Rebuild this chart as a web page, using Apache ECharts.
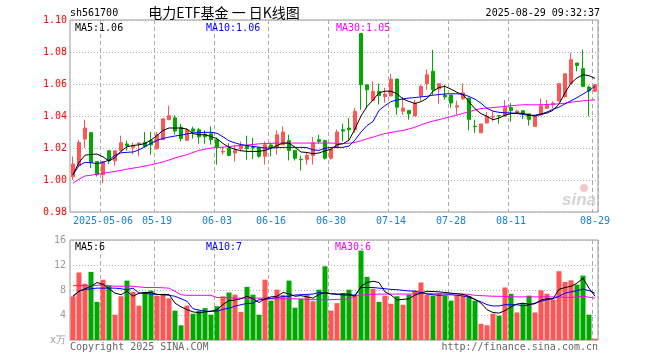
<!DOCTYPE html>
<html>
<head>
<meta charset="utf-8">
<script src="https://cdn.jsdelivr.net/npm/echarts/dist/echarts.min.js"></script>
<style>html,body{margin:0;padding:0;background:#fff}#c{width:660px;height:360px}</style>
</head>
<body>
<div id="c"></div>
<script>
const dates = ['2025-04-24','2025-04-25','2025-04-28','2025-04-29','2025-04-30',
'2025-05-06','2025-05-07','2025-05-08','2025-05-09','2025-05-12','2025-05-13','2025-05-14','2025-05-15','2025-05-16',
'2025-05-19','2025-05-20','2025-05-21','2025-05-22','2025-05-23','2025-05-26','2025-05-27','2025-05-28','2025-05-29','2025-05-30',
'2025-06-03','2025-06-04','2025-06-05','2025-06-06','2025-06-09','2025-06-10','2025-06-11','2025-06-12','2025-06-13',
'2025-06-16','2025-06-17','2025-06-18','2025-06-19','2025-06-20','2025-06-23','2025-06-24','2025-06-25','2025-06-26','2025-06-27',
'2025-06-30','2025-07-01','2025-07-02','2025-07-03','2025-07-04','2025-07-07','2025-07-08','2025-07-09','2025-07-10','2025-07-11',
'2025-07-14','2025-07-15','2025-07-16','2025-07-17','2025-07-18','2025-07-21','2025-07-22','2025-07-23','2025-07-24','2025-07-25',
'2025-07-28','2025-07-29','2025-07-30','2025-07-31','2025-08-01','2025-08-04','2025-08-05','2025-08-06','2025-08-07','2025-08-08',
'2025-08-11','2025-08-12','2025-08-13','2025-08-14','2025-08-15','2025-08-18','2025-08-19','2025-08-20','2025-08-21','2025-08-22',
'2025-08-25','2025-08-26','2025-08-27','2025-08-28','2025-08-29'];

const opens = [1.002,1.009,1.0256,1.0296,1.0116,1.0033,1.0183,1.012,1.0183,1.0225,
1.0204,1.0225,1.0235,1.0246,1.0195,1.0252,1.0377,1.0388,1.033,1.0248,
1.0319,1.0314,1.0287,1.0289,1.0252,1.0175,1.020,1.0169,1.0196,1.0216,
1.0204,1.0204,1.0148,1.0219,1.0204,1.022,1.0246,1.0185,1.0129,1.0129,
1.0152,1.0252,1.0246,1.0136,1.0202,1.0314,1.0325,1.0314,1.0915,1.0595,
1.0496,1.0554,1.0521,1.0525,1.0631,1.043,1.0435,1.040,1.0527,1.0602,
1.0679,1.0569,1.0531,1.0531,1.0456,1.0508,1.0512,1.0336,1.0295,1.0356,
1.0394,1.0402,1.0398,1.0453,1.0422,1.0433,1.0413,1.0335,1.0408,1.0448,
1.0471,1.0493,1.0521,1.0602,1.0731,1.0696,1.0581,1.0554];
const closes = [1.010,1.0235,1.0325,1.011,1.0033,1.0116,1.012,1.0183,1.0233,1.0216,
1.0214,1.0231,1.021,1.022,1.0283,1.0383,1.0402,1.0306,1.026,1.0314,
1.0304,1.027,1.027,1.0252,1.0206,1.018,1.0154,1.0185,1.0219,1.0196,
1.020,1.0148,1.022,1.0204,1.0283,1.030,1.0185,1.0136,1.0127,1.0154,
1.0233,1.0241,1.0136,1.0194,1.030,1.0306,1.0314,1.0429,1.0595,1.0564,
1.0554,1.0527,1.0537,1.063,1.0455,1.0449,1.0414,1.0481,1.0585,1.0658,
1.0564,1.0602,1.0519,1.0481,1.0464,1.0545,1.0379,1.0333,1.035,1.0398,
1.0398,1.040,1.0453,1.0434,1.0431,1.0419,1.0379,1.040,1.0464,1.047,
1.048,1.0602,1.0664,1.0752,1.0716,1.0585,1.0556,1.0596];
const lows = [1.000,1.008,1.020,1.0075,1.0022,0.998,1.010,1.009,1.0183,1.0183,
1.016,1.0148,1.020,1.0158,1.019,1.0252,1.0377,1.0285,1.024,1.0248,
1.0258,1.0227,1.0227,1.0221,1.0096,1.0158,1.0148,1.0116,1.0179,1.0127,
1.0131,1.0139,1.0096,1.0148,1.0158,1.022,1.0122,1.0122,1.006,1.0096,
1.0096,1.0227,1.0127,1.0127,1.020,1.0241,1.0246,1.0294,1.0439,1.0449,
1.0496,1.0473,1.0483,1.0525,1.0408,1.0408,1.0377,1.040,1.0496,1.0564,
1.0533,1.0477,1.0502,1.0452,1.0408,1.050,1.0311,1.0294,1.0295,1.0356,
1.0366,1.0352,1.0398,1.0364,1.0422,1.038,1.034,1.0335,1.0398,1.0448,
1.045,1.0493,1.0514,1.0602,1.0679,1.0585,1.0398,1.0554];
const highs = [1.0147,1.0252,1.0377,1.0296,1.0116,1.0116,1.0183,1.0183,1.0277,1.0246,
1.0233,1.0235,1.030,1.0302,1.030,1.0383,1.0464,1.0404,1.035,1.0325,
1.0333,1.0325,1.031,1.0335,1.0265,1.0206,1.023,1.022,1.024,1.0277,
1.0263,1.0204,1.0241,1.0235,1.031,1.0335,1.0283,1.0185,1.0152,1.0173,
1.0269,1.0283,1.0252,1.0194,1.0315,1.0352,1.0387,1.045,1.0915,1.0595,
1.0616,1.0602,1.0577,1.0664,1.0631,1.0518,1.0435,1.050,1.0596,1.069,
1.0814,1.0602,1.0596,1.0531,1.0496,1.0605,1.0512,1.0377,1.035,1.0424,
1.0429,1.0402,1.050,1.048,1.044,1.0433,1.0413,1.040,1.0508,1.050,
1.0491,1.0602,1.0664,1.0794,1.0731,1.0814,1.0591,1.0596];

const ma5 = [1.0033,1.011,1.0155,1.016,1.0162,1.0145,1.0118,1.014,1.018,1.0208,
1.0216,1.022,1.0228,1.025,1.0278,1.031,1.0325,1.0325,1.0325,1.0318,
1.029,1.0283,1.0283,1.0272,1.0258,1.0228,1.0205,1.0192,1.0183,1.0179,
1.0179,1.0179,1.0185,1.0198,1.0215,1.0231,1.023,1.0205,1.0175,1.0172,
1.0164,1.0169,1.0182,1.0192,1.022,1.0227,1.0248,1.032,1.040,1.046,
1.050,1.0545,1.0555,1.0555,1.0539,1.0506,1.0491,1.0478,1.049,1.051,
1.0555,1.0578,1.0585,1.0568,1.0548,1.0533,1.049,1.0445,1.0415,1.0398,
1.0377,1.0387,1.0406,1.0415,1.0419,1.0416,1.0408,1.040,1.041,1.0419,
1.0435,1.0475,1.0545,1.0605,1.0638,1.0658,1.0652,1.0635];
const ma10 = [1.0033,1.009,1.011,1.0108,1.0102,1.011,1.0125,1.0155,1.017,1.0173,
1.0175,1.0188,1.021,1.0228,1.0248,1.026,1.0268,1.0275,1.028,1.0288,
1.0294,1.0297,1.0298,1.0298,1.0292,1.027,1.0245,1.0232,1.0221,1.0215,
1.021,1.0205,1.020,1.020,1.0202,1.0204,1.0204,1.0204,1.0204,1.0202,
1.0188,1.0185,1.0198,1.0204,1.0204,1.0204,1.0212,1.025,1.030,1.034,
1.0366,1.0435,1.0465,1.049,1.050,1.0507,1.0512,1.0515,1.052,1.0523,
1.053,1.0534,1.0538,1.0539,1.0539,1.0535,1.0522,1.0505,1.048,1.0448,
1.043,1.0423,1.042,1.0419,1.0415,1.041,1.0403,1.0405,1.0412,1.0425,
1.0443,1.0455,1.0476,1.0495,1.0515,1.0537,1.056,1.0585];
const ma30 = [0.998,1.0005,1.0025,1.003,1.0036,1.0042,1.0048,1.0054,1.006,1.0068,
1.0074,1.008,1.0088,1.0095,1.0104,1.0113,1.0125,1.0138,1.0148,1.0158,
1.0172,1.0185,1.0192,1.020,1.0203,1.0206,1.0209,1.0213,1.0216,1.0219,
1.0222,1.0226,1.0228,1.0229,1.023,1.0231,1.0231,1.0231,1.0231,1.0231,
1.0231,1.0231,1.0231,1.0231,1.0229,1.0227,1.023,1.0235,1.0245,1.0258,
1.0268,1.028,1.029,1.0297,1.0304,1.031,1.0319,1.033,1.0345,1.0358,
1.0368,1.0377,1.0387,1.0396,1.0406,1.0416,1.0426,1.0438,1.0446,1.045,
1.0453,1.0456,1.046,1.0464,1.0468,1.047,1.047,1.047,1.047,1.0472,
1.0474,1.0476,1.048,1.0486,1.0491,1.0495,1.0498,1.0502];

const volumes = [6.98,10.8,9.0,10.9,6.1,9.65,8.7,4.05,7.0,9.5,
7.7,5.5,7.7,7.9,7.1,7.4,6.66,4.7,2.35,5.5,
4.2,4.7,5.1,4.05,5.4,7.0,7.6,7.25,4.5,8.5,
7.25,4.05,9.65,6.3,8.05,7.2,9.5,5.17,6.6,7.25,
6.2,8.05,11.8,4.7,5.9,7.5,8.05,7.1,14.3,10.1,
8.2,6.1,7.1,5.8,7.0,5.65,7.25,7.9,9.2,7.25,
7.1,7.5,7.1,6.3,7.1,7.1,7.0,6.3,2.6,2.35,
4.2,3.9,8.4,7.4,4.4,5.9,7.1,4.4,7.95,7.4,
6.45,11.0,9.3,9.55,8.85,10.3,4.05,0.2];
const volMa5 = [7.0,7.8,8.2,8.6,9.2,8.9,8.2,7.5,7.25,7.8,
7.0,7.5,7.6,7.6,7.3,7.25,7.3,5.9,5.3,4.85,
4.5,4.35,4.5,4.6,4.85,5.7,6.3,6.4,6.6,7.0,
6.6,6.0,6.6,6.9,7.0,7.6,7.4,7.0,7.1,6.9,
6.7,7.3,7.6,7.4,7.35,7.35,7.35,7.0,8.6,9.2,
9.4,9.2,7.7,7.2,6.4,6.5,6.6,7.2,7.5,7.8,
7.75,7.7,7.6,7.5,7.4,7.3,7.0,6.5,5.9,4.85,
4.4,4.3,4.7,5.3,5.75,5.9,5.7,5.8,6.4,6.6,
6.6,8.1,8.4,8.6,9.1,9.9,8.3,7.0];
const volMa10 = [7.0,7.8,8.1,8.2,8.3,8.3,8.3,8.3,8.2,8.05,
8.3,7.5,7.45,7.35,7.3,7.25,7.15,7.0,6.6,6.2,
5.0,4.8,4.6,4.6,4.6,4.9,5.1,5.4,5.65,5.85,
5.9,6.45,6.5,6.65,6.8,6.95,7.0,7.2,7.25,7.3,
7.35,7.6,7.5,7.4,7.3,7.2,7.15,7.2,8.4,8.4,
8.4,8.3,8.2,8.1,8.05,7.95,7.85,7.8,7.6,7.35,
7.25,7.15,7.2,7.25,7.15,7.05,6.85,6.5,6.1,5.65,
5.45,5.45,5.65,5.65,5.65,5.45,5.6,5.9,6.2,6.45,
6.6,7.0,7.5,7.7,7.9,8.15,7.9,7.5];
const volMa30 = [8.7,8.7,8.7,8.7,8.75,8.85,8.7,8.6,8.6,8.6,
8.6,8.5,8.4,8.4,8.4,8.35,8.3,7.8,7.25,7.15,
7.15,7.15,7.15,7.15,6.8,6.8,6.75,6.7,6.7,6.7,
6.7,6.7,6.7,6.6,6.55,6.6,6.6,6.6,6.55,6.5,
6.45,6.45,6.45,6.45,6.5,6.5,6.55,7.1,7.2,7.25,
7.3,7.35,7.35,7.35,7.35,7.35,7.35,7.4,7.5,7.45,
7.4,7.4,7.4,7.4,7.4,7.35,7.3,7.15,7.1,7.05,
7.0,7.0,6.95,6.95,6.9,6.9,6.9,6.9,6.9,6.9,
6.9,6.9,6.85,6.8,6.9,7.0,6.85,6.7];

const tickDates = ['2025-05-06','2025-05-19','2025-06-03','2025-06-16','2025-06-30','2025-07-14','2025-07-28','2025-08-11','2025-08-29'];
const tickLabels = ['2025-05-06','05-19','06-03','06-16','06-30','07-14','07-28','08-11','08-29'];
const priceTicks = [0.98, 1.10, 0.02];
const volTicks = [0, 16, 4];

const RED = '#ff5555', GREEN = '#00a800';
const MONO = '"DejaVu Sans Mono", monospace';

const tickIdx = tickDates.map(d => dates.indexOf(d));
const candleData = dates.map((d, i) => [opens[i], closes[i], lows[i], highs[i]]);
const volData = volumes.map((v, i) => ({value: v, itemStyle: {color: closes[i] >= opens[i] ? RED : GREEN}}));

const vSplit = {show: true, interval: (idx) => tickIdx.indexOf(idx) >= 0, lineStyle: {color: '#aaa', type: [4, 3], width: 1}};
const hSplit = {show: true, lineStyle: {color: '#b0b0b0', type: [1, 2], width: 1}};

const chart = echarts.init(document.getElementById('c'), null, {renderer: 'canvas'});
const txt = (x, y, text, fill, opts) => Object.assign({type: 'text', x: x, y: y, z: 100,
  style: {text: text, fill: fill, font: '10px ' + MONO, textAlign: 'left', textVerticalAlign: 'middle'}}, opts || {});

chart.setOption({
  animation: false,
  backgroundColor: '#fff',
  grid: [
    {left: 70, top: 20, width: 528, height: 192, show: true, borderColor: '#999', borderWidth: 1, backgroundColor: 'transparent'},
    {left: 70, top: 240, width: 528, height: 100, show: true, borderColor: '#999', borderWidth: 1, backgroundColor: 'transparent'}
  ],
  xAxis: [
    {type: 'category', gridIndex: 0, data: dates, boundaryGap: true,
     axisLine: {show: false}, axisTick: {show: false},
     axisLabel: {show: true, interval: (idx) => tickIdx.indexOf(idx) >= 0, margin: 4,
       color: '#1a7fd4', fontFamily: MONO, fontSize: 10,
       formatter: (v) => { const k = tickDates.indexOf(v); return k >= 0 ? tickLabels[k] : ''; }},
     splitLine: vSplit},
    {type: 'category', gridIndex: 1, data: dates, boundaryGap: true,
     axisLine: {show: false}, axisTick: {show: false}, axisLabel: {show: false},
     splitLine: vSplit}
  ],
  yAxis: [
    {type: 'value', gridIndex: 0, min: priceTicks[0], max: priceTicks[1], interval: priceTicks[2],
     axisLine: {show: false}, axisTick: {show: false},
     axisLabel: {color: '#ff0000', fontFamily: MONO, fontSize: 10, margin: 3, formatter: (v) => v.toFixed(2)},
     splitLine: hSplit},
    {type: 'value', gridIndex: 1, min: volTicks[0], max: volTicks[1], interval: volTicks[2],
     axisLine: {show: false}, axisTick: {show: false},
     axisLabel: {color: '#999', fontFamily: MONO, fontSize: 10, margin: 4,
       formatter: (v) => v === 0 ? 'x万' : String(v)},
     splitLine: hSplit}
  ],
  series: [
    {type: 'candlestick', xAxisIndex: 0, yAxisIndex: 0, data: candleData, barWidth: 4, z: 2,
     itemStyle: {color: RED, color0: GREEN, borderColor: RED, borderColor0: GREEN, borderWidth: 1}},
    {type: 'line', xAxisIndex: 0, yAxisIndex: 0, data: ma30, showSymbol: false, z: 3, lineStyle: {color: '#ff00ff', width: 1}},
    {type: 'line', xAxisIndex: 0, yAxisIndex: 0, data: ma10, showSymbol: false, z: 4, lineStyle: {color: '#0000ff', width: 1}},
    {type: 'line', xAxisIndex: 0, yAxisIndex: 0, data: ma5, showSymbol: false, z: 5, lineStyle: {color: '#000000', width: 1}},
    {type: 'bar', xAxisIndex: 1, yAxisIndex: 1, data: volData, barWidth: 5, z: 2},
    {type: 'line', xAxisIndex: 1, yAxisIndex: 1, data: volMa30, showSymbol: false, z: 3, lineStyle: {color: '#ff00ff', width: 1}},
    {type: 'line', xAxisIndex: 1, yAxisIndex: 1, data: volMa10, showSymbol: false, z: 4, lineStyle: {color: '#0000ff', width: 1}},
    {type: 'line', xAxisIndex: 1, yAxisIndex: 1, data: volMa5, showSymbol: false, z: 5, lineStyle: {color: '#000000', width: 1}}
  ],
  graphic: [
    txt(70, 13, 'sh561700', '#000'),
    {type: 'text', x: 224, y: 13, z: 100, style: {text: '电力ETF基金 一 日K线图', fill: '#000',
      font: '14px "Noto Sans CJK SC"', textAlign: 'center', textVerticalAlign: 'middle'}},
    txt(600, 13, '2025-08-29 09:32:37', '#000', {style: {text: '2025-08-29 09:32:37', fill: '#000', font: '10px ' + MONO, textAlign: 'right', textVerticalAlign: 'middle'}}),
    txt(75, 28, 'MA5:1.06', '#000'),
    txt(206, 28, 'MA10:1.06', '#0000ff'),
    txt(336, 28, 'MA30:1.05', '#ff00ff'),
    txt(75, 247, 'MA5:6', '#000'),
    txt(206, 247, 'MA10:7', '#0000ff'),
    txt(335, 247, 'MA30:6', '#ff00ff'),
    txt(70, 347, 'Copyright 2025 SINA.COM', '#666'),
    {type: 'text', x: 598, y: 347, z: 100, style: {text: 'http://finance.sina.com.cn', fill: '#666', font: '10px ' + MONO, textAlign: 'right', textVerticalAlign: 'middle'}},
    {type: 'circle', shape: {cx: 584, cy: 188, r: 4}, z: 1, style: {fill: '#f2caca'}},
    {type: 'text', x: 596, y: 200, z: 1, style: {text: 'sina', fill: '#d4d4d4', font: 'italic bold 17px "Liberation Sans"', textAlign: 'right', textVerticalAlign: 'middle'}}
  ]
});
</script>
</body>
</html>
